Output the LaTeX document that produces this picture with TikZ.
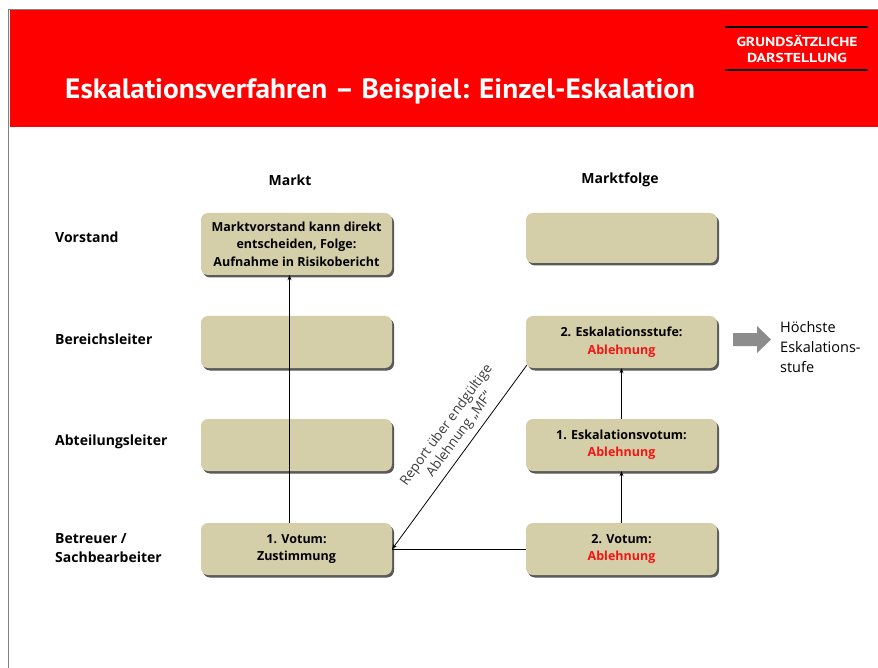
\documentclass[tikz,border=0pt]{standalone}
\usepackage{fontspec}
\usepackage{graphicx}
\setmainfont{Open Sans}
\newfontfamily\titlefont{PT Sans}
\usetikzlibrary{shadows,arrows.meta}
\definecolor{boxfill}{RGB}{212,207,168}
\definecolor{headred}{RGB}{255,0,0}
\definecolor{framegray}{RGB}{128,128,128}
\definecolor{arrowgray}{RGB}{140,140,140}
\definecolor{ablehnred}{RGB}{245,20,20}
\definecolor{labelgray}{RGB}{60,60,60}
\newcommand{\ablehnung}{\textcolor{ablehnred}{Ablehnung}}
\begin{document}
\begin{tikzpicture}[x=1pt,y=-1pt,
  level/.style={font=\fontsize{14}{19}\selectfont\bfseries, anchor=west, align=left, inner sep=0pt},
  colhead/.style={font=\fontsize{14}{17}\selectfont\bfseries, inner sep=0pt},
  stepbox/.style={rounded corners=7pt, fill=boxfill, minimum width=191pt, minimum height=52pt,
    align=center, inner sep=2pt, font=\fontsize{12.5}{17.5}\selectfont\bfseries,
    drop shadow={shadow xshift=2pt, shadow yshift=-2.5pt, fill=black!65, opacity=1}},
  flow/.style={-{Stealth[length=5pt,width=4pt]}, line width=0.8pt},
]
\useasboundingbox (0,0) rectangle (878,668);
\fill[white] (0,0) rectangle (878,668);

% page frame and header band
\draw[framegray, line width=1.5pt] (8.5,668) -- (8.5,9.5) -- (878,9.5);
\fill[headred] (9.5,10.5) rectangle (878,127);
\node[anchor=base west, text=white, inner sep=0pt] (title) at (65,99)
  {\resizebox{630pt}{\height}{\titlefont\fontsize{28}{30}\selectfont\bfseries Eskalationsverfahren – Beispiel: Einzel-Eskalation}};
\draw[black, line width=1.2pt] (725,27) -- (868,27);
\draw[black, line width=1.2pt] (725,70) -- (868,70);
\node[text=white, align=center, inner sep=0pt, font=\titlefont\fontsize{13}{16.5}\selectfont\bfseries] (badge) at (797,49)
  {\resizebox{121pt}{\height}{GRUNDSÄTZLICHE}\\\resizebox{100pt}{\height}{DARSTELLUNG}};

% column headings
\node[colhead] (hmarkt) at (290,180) {Markt};
\node[colhead] (hfolge) at (620,180) {Marktfolge};

% hierarchy levels
\node[level] (lvor) at (55,237) {Vorstand};
\node[level] (lber) at (55,339) {Bereichsleiter};
\node[level] (labt) at (55,442) {Abteilungsleiter};
\node[level] (lbet) at (55,548) {Betreuer /\\Sachbearbeiter};

% decision boxes
\node[stepbox, minimum height=62pt] (mvor) at (296.5,244) {Marktvorstand kann direkt\\entscheiden, Folge:\\Aufnahme in Risikobericht};
\node[stepbox, minimum height=50pt] (fvor) at (621.5,238) {};
\node[stepbox] (mber) at (296.5,342) {};
\node[stepbox] (esk2) at (621.5,342) {2. Eskalationsstufe:\\\ablehnung};
\node[stepbox] (mabt) at (296.5,445) {};
\node[stepbox] (esk1) at (621.5,445) {1. Eskalationsvotum:\\\ablehnung};
\node[stepbox] (zust) at (296.5,549) {1. Votum:\\Zustimmung};
\node[stepbox] (vot2) at (621.5,549) {2. Votum:\\\ablehnung};

% flow
\draw[flow] ([xshift=-7pt]zust.north) -- ([xshift=-7pt]mvor.south);
\draw[flow] (vot2.north) -- (esk1.south);
\draw[flow] (esk1.north) -- (esk2.south);
\draw[line width=0.8pt] (vot2.west) -- (zust.east);
\draw[flow] ([xshift=1pt,yshift=3pt]esk2.south west) --
  node[sloped, above=5pt, pos=0.42, font=\fontsize{13.5}{16}\selectfont, text=labelgray, align=center, inner sep=1pt] (rep)
  {Report über endgültige\\Ablehnung „MF“} (zust.east);

% outcome marker
\fill[arrowgray] (733,333) -- (757,333) -- (757,326) -- (771,339.5) -- (757,353) -- (757,346) -- (733,346) -- cycle;
\node[anchor=north west, align=left, font=\fontsize{14.5}{20}\selectfont, inner sep=0pt] (top) at (780,321)
  {Höchste\\Eskalations-\\stufe};
\end{tikzpicture}
\end{document}
